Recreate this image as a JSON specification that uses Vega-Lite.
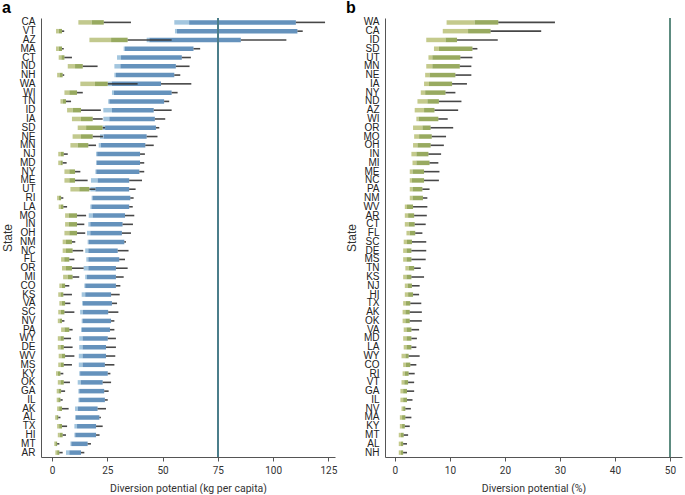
{
  "$schema": "https://vega.github.io/schema/vega-lite/v6.json",
  "background": "white",
  "padding": {"left": 1, "top": 0, "right": 2, "bottom": 0},
  "spacing": 8,
  "config": {
    "view": {"stroke": null},
    "font": "Roboto",
    "axis": {"domainColor": "#555", "tickColor": "#555", "labelColor": "#333", "titleColor": "#333", "titleFontWeight": "normal", "grid": false},
    "title": {"fontSize": 16, "fontWeight": "bold", "anchor": "start", "frame": "bounds", "font": "Liberation Sans", "offset": 0.5, "color": "#000"}
  },
  "datasets": {
    "a": [
      {"state":"CA","grp":"green","lo":11.9,"mid":17.9,"hi":23.4,"max":35.7},{"state":"CA","grp":"blue","lo":55.3,"mid":62,"hi":110.3,"max":123.5},
      {"state":"VT","grp":"green","lo":1.8,"mid":3.0,"hi":4.5,"max":5.5},{"state":"VT","grp":"blue","lo":55.6,"mid":56.5,"hi":111,"max":113.4},
      {"state":"AZ","grp":"green","lo":16.9,"mid":26.7,"hi":34.2,"max":54.1},{"state":"AZ","grp":"blue","lo":42.8,"mid":44,"hi":85.4,"max":106},
      {"state":"MA","grp":"green","lo":1.8,"mid":3.0,"hi":4.5,"max":5.3},{"state":"MA","grp":"blue","lo":32.4,"mid":33,"hi":64,"max":67},
      {"state":"CT","grp":"green","lo":3.0,"mid":4.2,"hi":5.6,"max":9.0},{"state":"CT","grp":"blue","lo":29.4,"mid":31.2,"hi":58.7,"max":62.8},
      {"state":"ND","grp":"green","lo":7.1,"mid":10.4,"hi":13.9,"max":20.6},{"state":"ND","grp":"blue","lo":28.2,"mid":30.9,"hi":56,"max":62.2},
      {"state":"NH","grp":"green","lo":2.3,"mid":3.4,"hi":4.8,"max":5.5},{"state":"NH","grp":"blue","lo":28.2,"mid":28.9,"hi":55.3,"max":58},
      {"state":"WA","grp":"green","lo":12.8,"mid":19.4,"hi":25.2,"max":38.7},{"state":"WA","grp":"blue","lo":25.2,"mid":27,"hi":49.3,"max":63},
      {"state":"WI","grp":"green","lo":5.6,"mid":7.8,"hi":11.3,"max":13.9},{"state":"WI","grp":"blue","lo":27.1,"mid":28,"hi":54.1,"max":56.8},
      {"state":"TN","grp":"green","lo":3.8,"mid":4.9,"hi":6.3,"max":8.6},{"state":"TN","grp":"blue","lo":25.4,"mid":25.9,"hi":50.7,"max":53},
      {"state":"ID","grp":"green","lo":6.8,"mid":9.3,"hi":13.1,"max":22.1},{"state":"ID","grp":"blue","lo":23.2,"mid":27.1,"hi":46,"max":54.1},
      {"state":"IA","grp":"green","lo":9.0,"mid":13.1,"hi":18.4,"max":22.9},{"state":"IA","grp":"blue","lo":23.2,"mid":25.9,"hi":46.5,"max":51.2},
      {"state":"SD","grp":"green","lo":11.6,"mid":15.4,"hi":22.9,"max":24.0},{"state":"SD","grp":"blue","lo":23,"mid":24,"hi":47,"max":48.5},
      {"state":"NE","grp":"green","lo":9.3,"mid":13.1,"hi":18.4,"max":23.0},{"state":"NE","grp":"blue","lo":21.7,"mid":23.3,"hi":42.8,"max":47.7},
      {"state":"MN","grp":"green","lo":8.3,"mid":11.6,"hi":16.4,"max":19.9},{"state":"MN","grp":"blue","lo":21.1,"mid":22.1,"hi":42.2,"max":46},
      {"state":"NJ","grp":"green","lo":2.8,"mid":4.0,"hi":5.3,"max":7.1},{"state":"NJ","grp":"blue","lo":19.9,"mid":20.4,"hi":39.8,"max":42},
      {"state":"MD","grp":"green","lo":2.8,"mid":3.8,"hi":4.8,"max":6.6},{"state":"MD","grp":"blue","lo":19.9,"mid":20.2,"hi":39.8,"max":41.7},
      {"state":"NY","grp":"green","lo":5.6,"mid":7.8,"hi":10.4,"max":12.8},{"state":"NY","grp":"blue","lo":19.6,"mid":20,"hi":39.5,"max":41.7},
      {"state":"ME","grp":"green","lo":5.6,"mid":7.8,"hi":10.4,"max":16.1},{"state":"ME","grp":"blue","lo":17.6,"mid":20.6,"hi":34.9,"max":40.7},
      {"state":"UT","grp":"green","lo":8.3,"mid":12.3,"hi":16.9,"max":19.6},{"state":"UT","grp":"blue","lo":17.3,"mid":19.6,"hi":34.9,"max":37.8},
      {"state":"RI","grp":"green","lo":2.3,"mid":3.1,"hi":4.1,"max":5.1},{"state":"RI","grp":"blue","lo":17.9,"mid":18.3,"hi":35.4,"max":36.9},
      {"state":"LA","grp":"green","lo":3.0,"mid":4.0,"hi":5.1,"max":6.8},{"state":"LA","grp":"blue","lo":17.3,"mid":17.8,"hi":34.9,"max":36.5},
      {"state":"MO","grp":"green","lo":5.9,"mid":7.5,"hi":11.3,"max":15.4},{"state":"MO","grp":"blue","lo":16.6,"mid":18.4,"hi":33,"max":37.2},
      {"state":"IN","grp":"green","lo":5.9,"mid":7.5,"hi":11.3,"max":14.6},{"state":"IN","grp":"blue","lo":16.4,"mid":17.3,"hi":31.9,"max":36.6},
      {"state":"OH","grp":"green","lo":5.6,"mid":7.8,"hi":11.3,"max":15.0},{"state":"OH","grp":"blue","lo":15.8,"mid":17.3,"hi":31.6,"max":35.7},
      {"state":"NM","grp":"green","lo":4.8,"mid":6.3,"hi":9.0,"max":10.5},{"state":"NM","grp":"blue","lo":16.1,"mid":16.5,"hi":32.7,"max":33.4},
      {"state":"NC","grp":"green","lo":4.8,"mid":6.3,"hi":9.3,"max":14.1},{"state":"NC","grp":"blue","lo":15,"mid":16.4,"hi":29.7,"max":34.6},
      {"state":"FL","grp":"green","lo":4.1,"mid":5.5,"hi":7.8,"max":10.1},{"state":"FL","grp":"blue","lo":15.5,"mid":16.4,"hi":30.4,"max":33},
      {"state":"OR","grp":"green","lo":4.5,"mid":6.3,"hi":9.0,"max":14.3},{"state":"OR","grp":"blue","lo":14.3,"mid":16.4,"hi":28.9,"max":34.2},
      {"state":"MI","grp":"green","lo":5.0,"mid":7.1,"hi":9.3,"max":12.3},{"state":"MI","grp":"blue","lo":15,"mid":15.8,"hi":28.9,"max":32.4},
      {"state":"CO","grp":"green","lo":3.3,"mid":4.4,"hi":5.9,"max":7.8},{"state":"CO","grp":"blue","lo":14.6,"mid":15,"hi":28.9,"max":30.9},
      {"state":"KS","grp":"green","lo":2.8,"mid":3.8,"hi":5.1,"max":9.0},{"state":"KS","grp":"blue","lo":13.4,"mid":15,"hi":26.7,"max":30.6},
      {"state":"VA","grp":"green","lo":3.3,"mid":4.4,"hi":5.9,"max":8.3},{"state":"VA","grp":"blue","lo":13.6,"mid":14,"hi":27.1,"max":29.4},
      {"state":"SC","grp":"green","lo":2.8,"mid":4.0,"hi":5.6,"max":10.1},{"state":"SC","grp":"blue","lo":12.7,"mid":13.9,"hi":25.4,"max":30},
      {"state":"NV","grp":"green","lo":2.6,"mid":3.4,"hi":4.5,"max":5.6},{"state":"NV","grp":"blue","lo":13.4,"mid":13.8,"hi":26.7,"max":28.2},
      {"state":"PA","grp":"green","lo":4.1,"mid":5.6,"hi":7.8,"max":9.3},{"state":"PA","grp":"blue","lo":13.1,"mid":13.5,"hi":26.2,"max":28.2},
      {"state":"WY","grp":"green","lo":2.6,"mid":3.8,"hi":5.3,"max":8.6},{"state":"WY","grp":"blue","lo":12.3,"mid":13.8,"hi":25.2,"max":28.9},
      {"state":"DE","grp":"green","lo":2.6,"mid":3.8,"hi":5.3,"max":9.3},{"state":"DE","grp":"blue","lo":12.3,"mid":13.8,"hi":24.4,"max":28.9},
      {"state":"WV","grp":"green","lo":3.0,"mid":4.3,"hi":5.9,"max":10.1},{"state":"WV","grp":"blue","lo":12.1,"mid":13.8,"hi":24.4,"max":28.6},
      {"state":"MS","grp":"green","lo":2.8,"mid":3.9,"hi":5.3,"max":9.0},{"state":"MS","grp":"blue","lo":12.1,"mid":13.8,"hi":23.9,"max":28.2},
      {"state":"KY","grp":"green","lo":1.8,"mid":2.6,"hi":3.8,"max":5.1},{"state":"KY","grp":"blue","lo":12.3,"mid":12.7,"hi":25.2,"max":26.4},
      {"state":"OK","grp":"green","lo":2.6,"mid":3.8,"hi":5.3,"max":8.1},{"state":"OK","grp":"blue","lo":11.6,"mid":13,"hi":22.9,"max":26.7},
      {"state":"GA","grp":"green","lo":2.1,"mid":2.9,"hi":4.1,"max":5.9},{"state":"GA","grp":"blue","lo":11.9,"mid":12.3,"hi":23.6,"max":25.6},
      {"state":"IL","grp":"green","lo":2.1,"mid":2.8,"hi":3.8,"max":4.8},{"state":"IL","grp":"blue","lo":11.9,"mid":12.3,"hi":23.9,"max":25.2},
      {"state":"AK","grp":"green","lo":2.3,"mid":3.2,"hi":4.5,"max":7.5},{"state":"AK","grp":"blue","lo":10.4,"mid":11.6,"hi":20.6,"max":24.4},
      {"state":"AL","grp":"green","lo":1.4,"mid":2.0,"hi":2.8,"max":3.8},{"state":"AL","grp":"blue","lo":10.4,"mid":10.8,"hi":21.4,"max":22.1},
      {"state":"TX","grp":"green","lo":2.3,"mid":3.2,"hi":4.5,"max":6.8},{"state":"TX","grp":"blue","lo":10.1,"mid":11.3,"hi":19.9,"max":22.9},
      {"state":"HI","grp":"green","lo":2.6,"mid":3.5,"hi":4.8,"max":6.3},{"state":"HI","grp":"blue","lo":10.1,"mid":10.5,"hi":19.9,"max":21.5},
      {"state":"MT","grp":"green","lo":1.0,"mid":1.5,"hi":2.3,"max":3.3},{"state":"MT","grp":"blue","lo":8.3,"mid":8.7,"hi":16.1,"max":17.6},
      {"state":"AR","grp":"green","lo":1.5,"mid":2.3,"hi":3.3,"max":4.8},{"state":"AR","grp":"blue","lo":6.3,"mid":7.8,"hi":13.1,"max":14.6}
    ],
    "b": [
      {"state":"WA","lo":9.4,"mid":14.5,"hi":18.8,"max":29.1},
      {"state":"CA","lo":8.7,"mid":13.3,"hi":17.4,"max":26.6},
      {"state":"ID","lo":5.7,"mid":9.2,"hi":11.3,"max":18.7},
      {"state":"SD","lo":7.1,"mid":8.0,"hi":14.1,"max":15.0},
      {"state":"UT","lo":6.1,"mid":6.8,"hi":11.9,"max":14.1},
      {"state":"MN","lo":5.7,"mid":6.8,"hi":11.8,"max":13.9},
      {"state":"NE","lo":5.5,"mid":6.3,"hi":11.0,"max":13.9},
      {"state":"IA","lo":5.3,"mid":6.2,"hi":10.4,"max":13.1},
      {"state":"NY","lo":4.7,"mid":5.5,"hi":9.2,"max":11.0},
      {"state":"ND","lo":4.1,"mid":5.9,"hi":8.0,"max":12.1},
      {"state":"AZ","lo":3.6,"mid":5.3,"hi":7.2,"max":11.5},
      {"state":"WI","lo":3.9,"mid":4.3,"hi":7.9,"max":9.6},
      {"state":"OR","lo":3.3,"mid":5.0,"hi":6.5,"max":10.6},
      {"state":"MO","lo":3.5,"mid":4.4,"hi":6.7,"max":9.3},
      {"state":"OH","lo":3.3,"mid":4.1,"hi":6.5,"max":8.9},
      {"state":"IN","lo":3.0,"mid":3.9,"hi":6.1,"max":8.4},
      {"state":"MI","lo":3.2,"mid":3.9,"hi":6.3,"max":7.9},
      {"state":"ME","lo":2.7,"mid":3.2,"hi":5.3,"max":8.1},
      {"state":"NC","lo":2.7,"mid":3.1,"hi":5.3,"max":8.0},
      {"state":"PA","lo":2.7,"mid":3.2,"hi":5.0,"max":6.3},
      {"state":"NM","lo":2.7,"mid":3.2,"hi":5.1,"max":5.9},
      {"state":"WV","lo":1.8,"mid":2.2,"hi":3.3,"max":5.9},
      {"state":"AR","lo":1.8,"mid":2.4,"hi":3.5,"max":5.8},
      {"state":"CT","lo":1.8,"mid":2.5,"hi":3.6,"max":5.6},
      {"state":"FL","lo":2.1,"mid":2.7,"hi":3.7,"max":5.0},
      {"state":"SC","lo":1.6,"mid":2.2,"hi":3.1,"max":5.7},
      {"state":"DE","lo":1.5,"mid":2.1,"hi":3.0,"max":5.7},
      {"state":"MS","lo":1.5,"mid":2.1,"hi":3.0,"max":5.6},
      {"state":"TN","lo":1.9,"mid":2.5,"hi":3.5,"max":4.7},
      {"state":"KS","lo":1.5,"mid":2.1,"hi":3.0,"max":5.3},
      {"state":"NJ","lo":1.8,"mid":2.3,"hi":3.1,"max":4.5},
      {"state":"HI","lo":1.8,"mid":2.4,"hi":3.3,"max":4.4},
      {"state":"TX","lo":1.5,"mid":2.0,"hi":2.8,"max":4.8},
      {"state":"AK","lo":1.4,"mid":1.9,"hi":2.7,"max":4.9},
      {"state":"OK","lo":1.4,"mid":1.9,"hi":2.7,"max":4.9},
      {"state":"VA","lo":1.6,"mid":2.1,"hi":3.0,"max":4.4},
      {"state":"MD","lo":1.5,"mid":2.1,"hi":3.0,"max":4.0},
      {"state":"LA","lo":1.6,"mid":2.1,"hi":3.0,"max":3.9},
      {"state":"WY","lo":1.2,"mid":1.9,"hi":2.5,"max":4.5},
      {"state":"CO","lo":1.5,"mid":2.0,"hi":2.8,"max":3.9},
      {"state":"RI","lo":1.4,"mid":1.8,"hi":2.5,"max":3.6},
      {"state":"VT","lo":1.2,"mid":1.7,"hi":2.4,"max":3.5},
      {"state":"GA","lo":1.0,"mid":1.5,"hi":2.2,"max":3.5},
      {"state":"IL","lo":1.0,"mid":1.5,"hi":2.2,"max":3.2},
      {"state":"NV","lo":1.2,"mid":1.5,"hi":1.9,"max":2.9},
      {"state":"MA","lo":0.9,"mid":1.3,"hi":1.9,"max":3.0},
      {"state":"KY","lo":0.9,"mid":1.3,"hi":1.8,"max":2.7},
      {"state":"MT","lo":0.7,"mid":1.1,"hi":1.6,"max":2.4},
      {"state":"AL","lo":0.7,"mid":1.1,"hi":1.5,"max":2.2},
      {"state":"NH","lo":0.7,"mid":1.1,"hi":1.5,"max":2.2}
    ]
  },
  "hconcat": [
    {
      "title": "a",
      "width": 294,
      "height": 439,
      "data": {"name": "a"},
      "layer": [
        {
          "mark": {"type": "bar", "size": 4.5},
          "encoding": {
            "y": {"field": "state", "type": "nominal", "sort": null, "scale": {"paddingInner": 0, "paddingOuter": 0},
                  "axis": {"title": "State", "ticks": false, "labelPadding": 6, "labelFont": "Liberation Sans", "labelFontSize": 10, "labelOverlap": false, "titleFont": "Liberation Sans", "titleFontSize": 12, "titlePadding": 4, "labelColor": "#222"}},
            "x": {"field": "lo", "type": "quantitative", "scale": {"domain": [-5, 128], "nice": false, "zero": false},
                  "axis": {"title": "Diversion potential (kg per capita)", "values": [0, 25, 50, 75, 100, 125], "tickSize": 4, "labelFontSize": 10, "titleFontSize": 10.5, "labelPadding": 4, "titlePadding": 8}},
            "x2": {"field": "mid"},
            "color": {"field": "grp", "type": "nominal", "scale": {"domain": ["green", "blue"], "range": ["#c2c98e", "#a3c6df"]}, "legend": null}
          }
        },
        {
          "mark": {"type": "bar", "size": 4.5},
          "encoding": {
            "y": {"field": "state", "type": "nominal", "sort": null},
            "x": {"field": "mid", "type": "quantitative"},
            "x2": {"field": "hi"},
            "color": {"field": "grp", "type": "nominal", "scale": {"domain": ["green", "blue"], "range": ["#98aa60", "#6592bc"]}, "legend": null}
          }
        },
        {
          "mark": {"type": "rule", "strokeWidth": 1.6, "color": "#333333", "opacity": 0.9},
          "encoding": {
            "y": {"field": "state", "type": "nominal", "sort": null},
            "x": {"field": "hi", "type": "quantitative"},
            "x2": {"field": "max"}
          }
        },
        {
          "mark": {"type": "rule", "strokeWidth": 1.6, "color": "#4b7e8b"},
          "encoding": {"x": {"datum": 75}}
        }
      ],
      "resolve": {"scale": {"color": "independent"}}
    },
    {
      "title": "b",
      "width": 297,
      "height": 439,
      "data": {"name": "b"},
      "layer": [
        {
          "mark": {"type": "bar", "size": 4.5, "color": "#c4ca8c"},
          "encoding": {
            "y": {"field": "state", "type": "nominal", "sort": null, "scale": {"paddingInner": 0, "paddingOuter": 0},
                  "axis": {"title": "State", "ticks": false, "labelPadding": 6, "labelFont": "Liberation Sans", "labelFontSize": 10, "labelOverlap": false, "titleFont": "Liberation Sans", "titleFontSize": 12, "titlePadding": 4, "labelColor": "#222"}},
            "x": {"field": "lo", "type": "quantitative", "scale": {"domain": [-1.8, 52.2], "nice": false, "zero": false},
                  "axis": {"title": "Diversion potential (%)", "values": [0, 10, 20, 30, 40, 50], "tickSize": 4, "labelFontSize": 10, "titleFontSize": 10.5, "labelPadding": 4, "titlePadding": 8}},
            "x2": {"field": "mid"}
          }
        },
        {
          "mark": {"type": "bar", "size": 4.5, "color": "#98aa60"},
          "encoding": {
            "y": {"field": "state", "type": "nominal", "sort": null},
            "x": {"field": "mid", "type": "quantitative"},
            "x2": {"field": "hi"}
          }
        },
        {
          "mark": {"type": "rule", "strokeWidth": 1.6, "color": "#333333", "opacity": 0.9},
          "encoding": {
            "y": {"field": "state", "type": "nominal", "sort": null},
            "x": {"field": "hi", "type": "quantitative"},
            "x2": {"field": "max"}
          }
        },
        {
          "mark": {"type": "rule", "strokeWidth": 1.6, "color": "#5e8c80"},
          "encoding": {"x": {"datum": 50}}
        }
      ]
    }
  ]
}
